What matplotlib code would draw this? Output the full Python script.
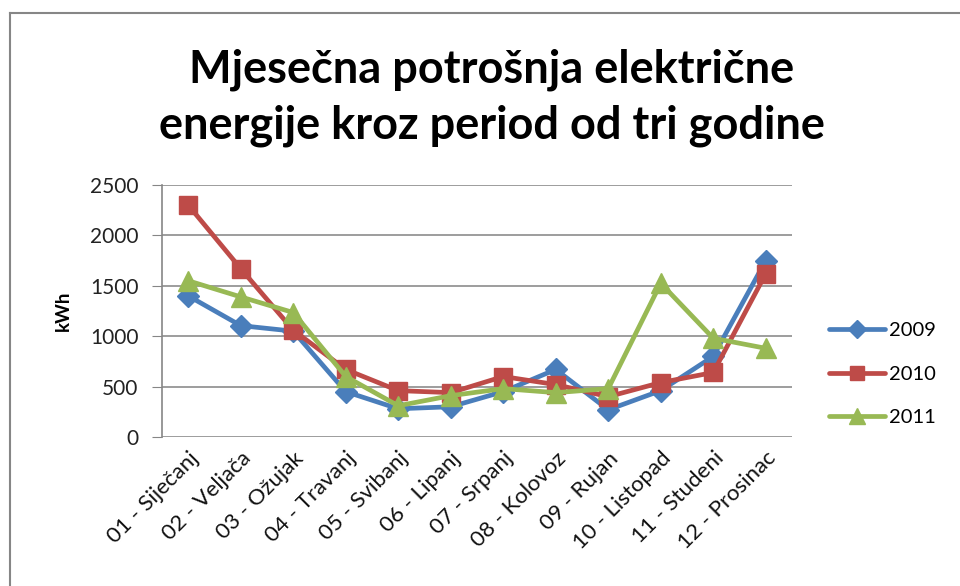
import matplotlib.pyplot as plt
from matplotlib.lines import Line2D
import numpy as np

plt.rcParams["font.family"] = ["Lato", "DejaVu Sans"]

months = [
    "01 - Siječanj", "02 - Veljača", "03 - Ožujak", "04 - Travanj",
    "05 - Svibanj", "06 - Lipanj", "07 - Srpanj", "08 - Kolovoz",
    "09 - Rujan", "10 - Listopad", "11 - Studeni", "12 - Prosinac",
]
y2009 = [1400, 1105, 1050, 450, 280, 300, 450, 670, 270, 460, 800, 1750]
y2010 = [2300, 1670, 1060, 670, 460, 440, 600, 520, 400, 540, 640, 1620]
y2011 = [1550, 1390, 1235, 600, 310, 410, 480, 440, 480, 1525, 980, 880]
yticks = [0, 500, 1000, 1500, 2000, 2500]

fig = plt.figure(figsize=(9.6, 5.86), dpi=100)
ax = fig.add_axes([162 / 960, 1 - 437 / 586, 630 / 960, 252 / 586])

# chart area outline (only top and left edges fall inside the picture)
fig.add_artist(Line2D([10 / 960, 10 / 960], [0, 1 - 13 / 586], transform=fig.transFigure,
                      color="#868686", lw=1.5))
fig.add_artist(Line2D([10 / 960, 1], [1 - 13 / 586, 1 - 13 / 586], transform=fig.transFigure,
                      color="#868686", lw=1.5))

x = np.arange(len(months))
series = [
    ("2009", y2009, "#4A7EBB", "D", 11),
    ("2010", y2010, "#BE4B48", "s", 12.5),
    ("2011", y2011, "#98B954", "^", 14),
]
for label, vals, color, marker, ms in series:
    ax.plot(x, vals, color=color, lw=3.4, marker=marker, markersize=ms,
            label=label, solid_capstyle="round")

ax.set_xlim(-0.5, len(months) - 0.5)
ax.set_ylim(0, 2500)
ax.set_yticks(yticks)
ax.set_yticklabels([str(v) for v in yticks], fontsize=15, color="#222222")
ax.yaxis.grid(True, color="#8c8c8c", lw=1.2)
ax.set_axisbelow(True)
ax.set_xticks(x)
ax.set_xticklabels(months, rotation=45, ha="right", rotation_mode="anchor",
                   fontsize=16, color="#111111")
ax.tick_params(axis="x", length=0, pad=8)
ax.tick_params(axis="y", length=7, color="#868686", pad=10)
for side in ["top", "right", "bottom"]:
    ax.spines[side].set_visible(False)
ax.spines["left"].set_color("#868686")
ax.spines["left"].set_linewidth(1.2)

ax.set_ylabel("kWh", fontsize=13.5, fontweight="bold", labelpad=13)

fig.text(492 / 960, 1 - 70 / 586, "Mjesečna potrošnja električne",
         ha="center", va="center", fontsize=32.5, fontweight="bold")
fig.text(492 / 960, 1 - 126 / 586, "energije kroz period od tri godine",
         ha="center", va="center", fontsize=32.5, fontweight="bold")

ax.legend(loc="center left", bbox_to_anchor=(1.03, 0.25), frameon=False, fontsize=14.5,
          handlelength=2.8, labelspacing=1.3, handletextpad=0.2, markerscale=0.85)

fig.savefig("out.png", dpi=100)
